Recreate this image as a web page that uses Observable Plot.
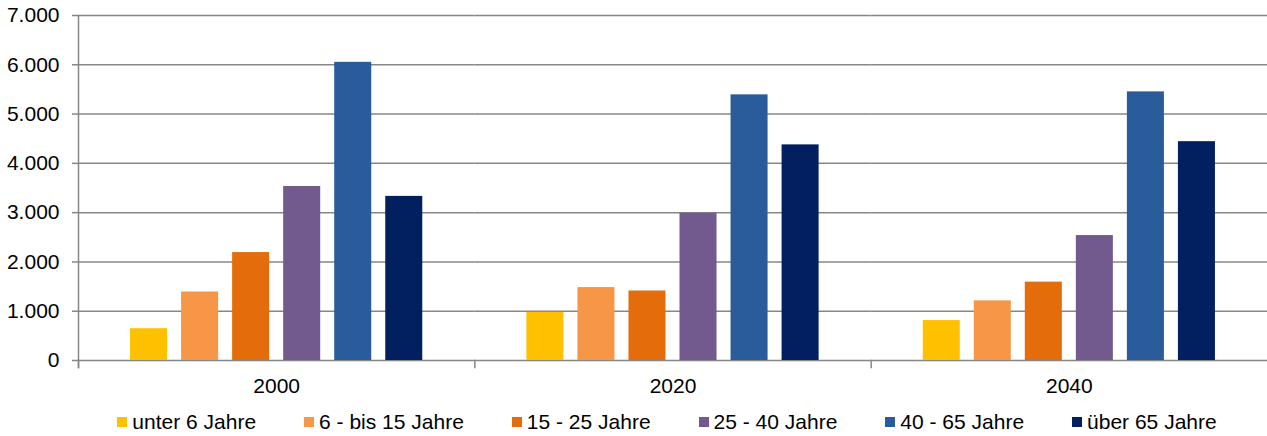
<!DOCTYPE html>
<html>
<head>
<meta charset="utf-8">
<script src="https://cdn.jsdelivr.net/npm/d3@7"></script>
<script src="https://cdn.jsdelivr.net/npm/@observablehq/plot@0.6"></script>
<style>
  html, body { margin: 0; padding: 0; background: #fff; }
  #chart { width: 1267px; }
  .legend { display: flex; justify-content: center; align-items: center; gap: 48px;
    padding-left: 67px; padding-top: 2px; height: 28px; line-height: 30px;
    font-family: "Liberation Sans", Arial, sans-serif; font-size: 21px; color: #000; }
  .legend .item { display: flex; align-items: center; }
  .legend .sw { width: 10px; height: 10px; margin-right: 5px; }
</style>
</head>
<body>
<div id="chart"></div>
<script>
const years = ["2000", "2020", "2040"];
const ages = ["unter 6 Jahre", "6 - bis 15 Jahre", "15 - 25 Jahre", "25 - 40 Jahre", "40 - 65 Jahre", "über 65 Jahre"];
const colors = ["#ffc000", "#f79646", "#e46c0a", "#725a8f", "#2a5b9b", "#022060"];
const v2000 = [645, 1390, 2190, 3530, 6050, 3330];
const v2020 = [975, 1480, 1410, 2990, 5390, 4375];
const v2040 = [810, 1210, 1590, 2535, 5450, 4440];
const yTicks = [0, 1000, 2000, 3000, 4000, 5000, 6000, 7000];

const series = {"2000": v2000, "2020": v2020, "2040": v2040};
const data = years.flatMap(y => ages.map((a, i) => ({year: y, age: a, value: series[y][i]})));

const de = d3.formatLocale({decimal: ",", thousands: ".", grouping: [3], currency: ["", " €"]});
const fmt = de.format(",");
const gridColor = "#878787";

const chart = Plot.plot({
  width: 1267,
  height: 406,
  marginLeft: 78,
  marginRight: 0,
  marginTop: 15,
  marginBottom: 46,
  style: {fontFamily: "'Liberation Sans', Arial, sans-serif", fontSize: "21px", color: "#000", background: "#fff"},
  fx: {domain: years, padding: 0, label: null, round: false},
  x: {domain: ages, axis: null, paddingInner: 0.2745, paddingOuter: 1.02, round: false},
  y: {domain: [0, 7000], label: null},
  color: {domain: ages, range: colors},
  marks: [
    Plot.ruleY(yTicks, {stroke: gridColor, strokeWidth: 1.5}),
    Plot.barY(data, {fx: "year", x: "age", y: "value", fill: "age"}),
    Plot.frame({anchor: "left", facetAnchor: "left", stroke: gridColor, strokeWidth: 1.5, insetBottom: -7}),
    Plot.frame({anchor: "left", stroke: gridColor, strokeWidth: 1.5, insetTop: 345, insetBottom: -7}),
    Plot.axisY({ticks: yTicks, tickFormat: fmt, tickSize: 6, tickPadding: 13, stroke: gridColor, strokeWidth: 1.5, fill: "#000", label: null}),
    Plot.axisFx({anchor: "bottom", tickSize: 0, tickPadding: 18, fill: "#000", label: null})
  ]
});
document.getElementById("chart").appendChild(chart);

const legend = document.createElement("div");
legend.className = "legend";
ages.forEach((a, i) => {
  const item = document.createElement("div");
  item.className = "item";
  const sw = document.createElement("span");
  sw.className = "sw";
  sw.style.background = colors[i];
  const t = document.createElement("span");
  t.textContent = a;
  item.appendChild(sw);
  item.appendChild(t);
  legend.appendChild(item);
});
document.getElementById("chart").appendChild(legend);
</script>
</body>
</html>
